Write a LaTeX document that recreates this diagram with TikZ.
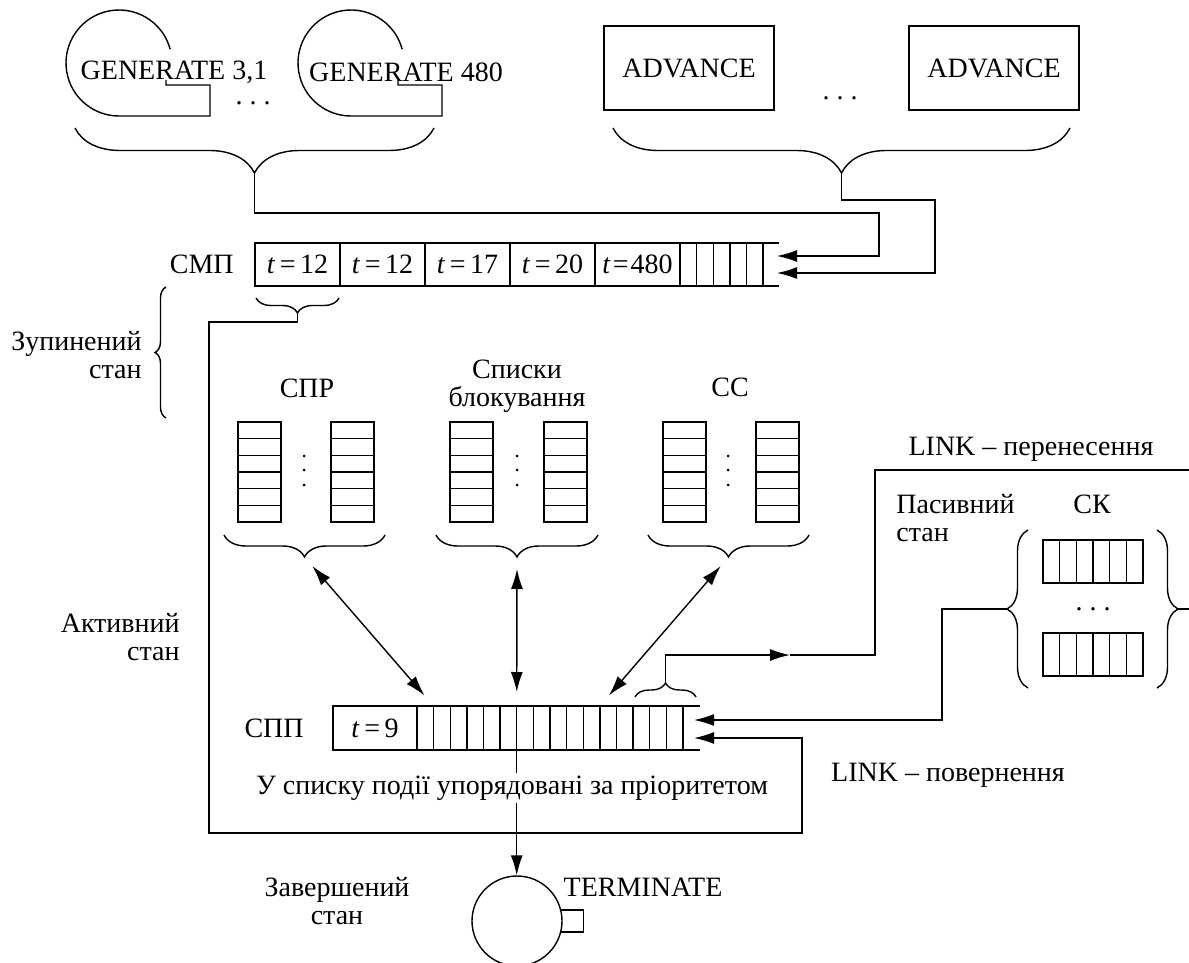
\documentclass[tikz,border=0pt]{standalone}
\usepackage{fontspec}
\setmainfont{Liberation Serif}
\usetikzlibrary{arrows.meta,positioning,decorations.pathreplacing,calc}
\newcommand{\tval}[1]{\textit{t}\,=\,#1}

\begin{document}
\begin{tikzpicture}[
    x=0.5pt, y=-0.5pt,
    font=\fontsize{14}{14}\selectfont,
    line width=0.7pt,
    cell/.style={draw, rectangle, minimum width=42.5pt, minimum height=21.5pt, inner sep=0pt, outer sep=0pt},
    slot/.style={draw, rectangle, minimum width=8.31pt, minimum height=21.5pt, inner sep=0pt, outer sep=0pt},
    blockbox/.style={draw, rectangle, minimum width=85pt, minimum height=42pt, inner sep=0pt},
    dots/.style={inner sep=0pt},
    brc/.style={decorate, decoration={brace, amplitude=#1}},
    brcm/.style={decorate, decoration={brace, mirror, amplitude=#1}},
    arr/.style={-{Latex[length=10pt,width=6pt]}},
    darr/.style={{Latex[length=10pt,width=6pt]}-{Latex[length=10pt,width=6pt]}}
]
\useasboundingbox (0,0) rectangle (1189,963);

% GENERATE and ADVANCE blocks
\foreach \gx/\gtext [count=\gi] in {0/{GENERATE 3,1}, 232/{GENERATE 480}} {
  \begin{scope}[shift={(\gx,0)}]
    \draw (119,63) ++(-15:53) arc[start angle=-15, end angle=-270, radius=53]
          -- (210,116) -- (210,85) -- (166,85) -- (166,80);
    \node[inner sep=0.5pt] (gen\gi) at (174,72) {\gtext};
  \end{scope}
}
\node[dots] (gendots) at (253,103) {.\ .\ .};
\node[blockbox] (adv1) at (689,68) {ADVANCE};
\node[blockbox] (adv2) at (994,68) {ADVANCE};
\node[dots] (advdots) at (840,98) {.\ .\ .};

\draw[brcm=22.5pt] (75,128) -- (434,128);
\draw[brcm=22.5pt] (613,128) -- (1070,128);
\coordinate (genTip) at (254.5,173);
\coordinate (advTip) at (841.5,173);

% future events chain
\node[cell, anchor=north west] (smp1) at (255,243) {\tval{12}};
\node[cell, right=0pt of smp1] (smp2) {\tval{12}};
\node[cell, right=0pt of smp2] (smp3) {\tval{17}};
\node[cell, right=0pt of smp3] (smp4) {\tval{20}};
\node[cell, right=0pt of smp4] (smp5) {\textit{t}\kern1pt=\kern1pt480};
\node[slot, right=0pt of smp5] (smpS1) {};
\foreach \i [remember=\i as \j (initially 1)] in {2,...,5}
  \node[slot, right=0pt of smpS\j] (smpS\i) {};
\draw (smpS5.north east) -- ++(16,0);
\draw (smpS5.south east) -- ++(16,0);
\node[left=7pt of smp1] (smpLbl) {СМП};
\coordinate (smpIn1) at (777,256);
\coordinate (smpIn2) at (777,273);

\draw[arr] (genTip) |- (879,213) |- (smpIn1);
\draw[arr] (advTip) |- (935,200) |- (smpIn2);

\draw[brcm=7.5pt] (256,298) -- (339,298);
\coordinate (smpTip) at (297.5,313);

\draw[brc=5.5pt] (166,418) -- (166,287);
\node[align=right, anchor=east] (stopLbl) at (149,355) {Зупинений\\стан};

% lists
\node (sprLbl) at (307,388) {СПР};
\node[align=center] (blkLbl) at (517,386) {Списки\\блокування};
\node (ccLbl) at (730,387) {СС};
\foreach \sx in {238,331,450,544,663,756} {
  \draw (\sx,422) rectangle ++(43,100);
  \foreach \k in {1,...,5} \draw (\sx,422+\k*16.67) -- ++(43,0);
}
\foreach \dx in {304,517,728}
  \foreach \dy in {456,470,485} \fill (\dx,\dy) circle[radius=1.5];
\draw[brcm=11pt] (224,535) -- (385,535);
\draw[brcm=11pt] (436,535) -- (598,535);
\draw[brcm=11pt] (648,535) -- (809,535);
\coordinate (sprTip) at (304.5,557);
\coordinate (blkTip) at (517,557);
\coordinate (ccTip) at (728.5,557);

% current events chain
\node[cell, minimum width=42pt, minimum height=22pt, anchor=north west] (spp0) at (333,706) {\tval{9}};
\node[slot, minimum height=22pt, right=0pt of spp0] (sppS1) {};
\foreach \i [remember=\i as \j (initially 1)] in {2,...,16}
  \node[slot, minimum height=22pt, right=0pt of sppS\j] (sppS\i) {};
\draw (sppS16.north east) -- ++(17,0);
\draw (sppS16.south east) -- ++(17,0);
\node[left=11pt of spp0] (sppLbl) {СПП};
\node[align=right, anchor=east] (actLbl) at (187,637) {Активний\\стан};
\coordinate (sppIn1) at (694,720);
\coordinate (sppIn2) at (694,738);

\draw[darr, shorten <=6pt, shorten >=7pt] (sprTip) -- (sppS1.north east);
\draw[darr, shorten <=6pt, shorten >=7pt] (blkTip) -- (sppS6.north east);
\draw[darr, shorten <=6pt, shorten >=7pt] (ccTip) -- (sppS11.north east);

\draw[arr] (smpTip) |- (209,322) |- (802,833) |- (sppIn2);

\draw[brc=7pt] (635,697) -- (696,697);
\coordinate (sppTip) at (665.5,683);
\coordinate (linkMid) at (790,655);
\coordinate (linkOut) at (1189,470);
\draw[arr] (sppTip) |- (linkMid);
\draw (linkMid) -- (875,655) |- (linkOut);
\node (linkFwd) at (1031,449) {LINK – перенесення};

% user chains
\node[align=left, anchor=west] (passLbl) at (889,518) {Пасивний\\стан};
\node (skLbl) at (1092,504) {СК};
\foreach \sy in {540,633} {
  \draw (1043,\sy) rectangle ++(100,43);
  \foreach \k in {1,...,5} \draw (1043+\k*16.67,\sy) -- ++(0,43);
}
\node[dots] (skdots) at (1093,609) {.\ .\ .};
\draw[brc=10.5pt] (1028,688) -- (1028,530);
\draw[brc=10.5pt] (1157,530) -- (1157,688);
\coordinate (skTipL) at (1007,609);
\coordinate (skTipR) at (1178,609);
\coordinate (skOut) at (1189,609);
\draw (skTipR) -- (skOut);
\draw[arr] (skTipL) -- ++(-65,0) |- (sppIn1);
\node (linkBack) at (948,775) {LINK – повернення};

% terminate
\node[circle, draw, minimum size=45pt, inner sep=0pt] (term) at (517,921) {};
\draw (term.14) -- ++(22,0) |- (term.-14);
\draw[arr] (sppS6.south east) -- (sppS6.south east |- term.north);
\node[fill=white, inner sep=1.5pt] (orderLbl) at (512,788) {У списку події упорядовані за пріоритетом};
\node (termLbl) at (643,887) {TERMINATE};
\node[align=center] (doneLbl) at (337,901) {Завершений\\стан};

\end{tikzpicture}
\end{document}
